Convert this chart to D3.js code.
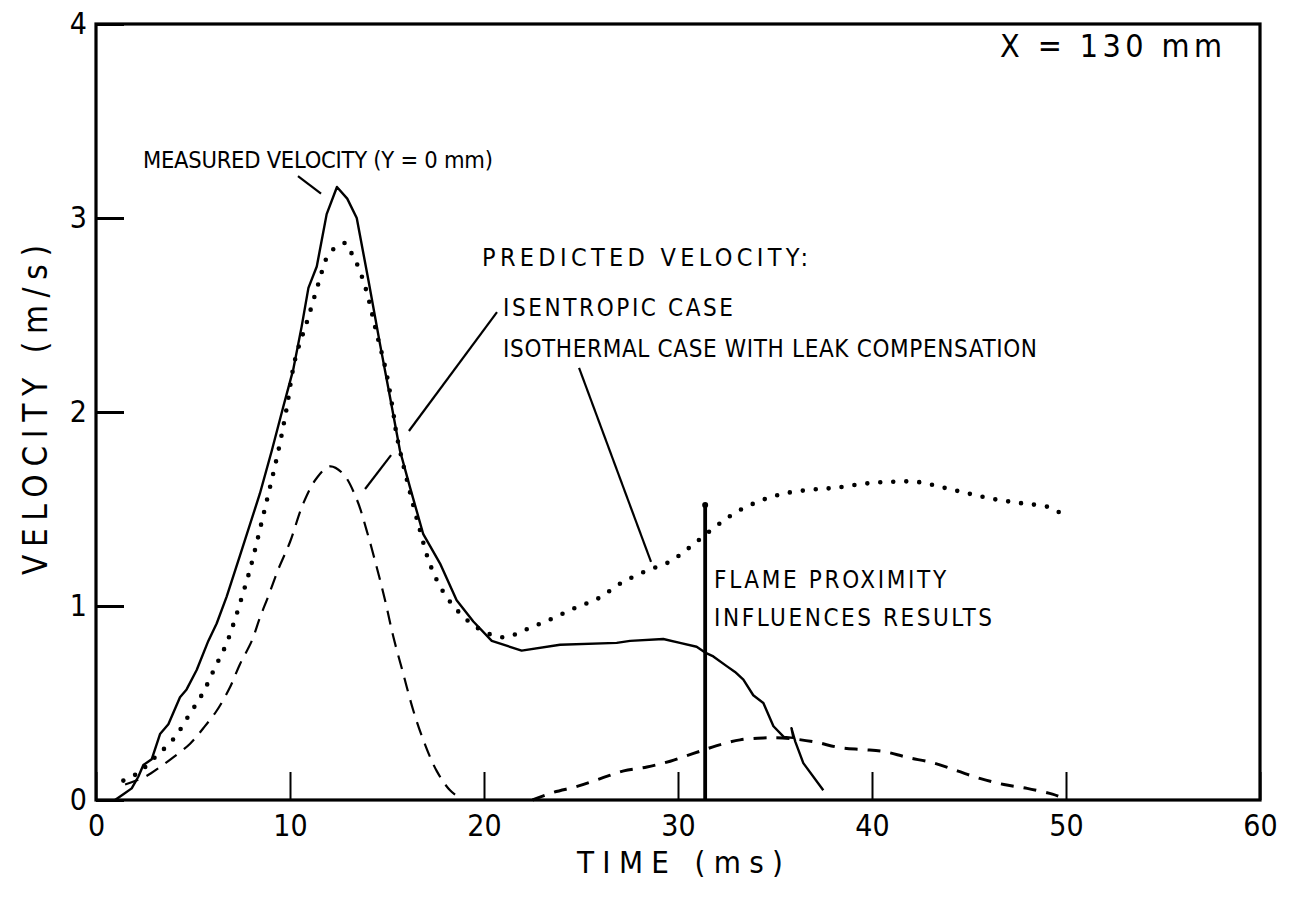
<!DOCTYPE html>
<html>
<head>
<meta charset="utf-8">
<script src="https://cdn.jsdelivr.net/npm/d3@7"></script>
<style>
  html, body { margin: 0; padding: 0; background: #fff; }
  svg { display: block; }
</style>
</head>
<body>
<svg id="chart" width="1294" height="899"></svg>
<script>
// ---- data: time (ms), velocity (m/s) ----
const xTicks = [0, 10, 20, 30, 40, 50, 60];
const yTicks = [0, 1, 2, 3, 4];

// measured velocity at Y = 0 mm (solid)
const measured = [
  [0.98, 0.00], [1.41, 0.03], [1.84, 0.06], [2.18, 0.12], [2.44, 0.18], [2.87, 0.21],
  [3.30, 0.34], [3.73, 0.39], [4.33, 0.53], [4.67, 0.57], [5.19, 0.67], [5.79, 0.82],
  [6.22, 0.91], [6.74, 1.05], [7.42, 1.26], [8.45, 1.58], [9.06, 1.80], [9.66, 2.03],
  [10.17, 2.22], [10.60, 2.44], [10.95, 2.64], [11.38, 2.75], [11.55, 2.84], [11.89, 3.02],
  [12.42, 3.16], [12.95, 3.10], [13.44, 3.00], [14.04, 2.68], [14.64, 2.35], [15.15, 2.08],
  [15.67, 1.80], [16.19, 1.61], [16.87, 1.37], [17.73, 1.22], [18.59, 1.03], [19.45, 0.92],
  [20.40, 0.82], [21.94, 0.77], [23.92, 0.80], [26.84, 0.81], [27.53, 0.82], [29.24, 0.83],
  [30.10, 0.81], [30.96, 0.79], [31.40, 0.76], [31.82, 0.74], [32.51, 0.69], [32.94, 0.66],
  [33.37, 0.62], [33.88, 0.54], [34.40, 0.50], [34.92, 0.38], [35.45, 0.325], [35.95, 0.32],
  [35.85, 0.37], [36.05, 0.30], [36.20, 0.26], [36.46, 0.19], [37.49, 0.05]
];

// predicted, isothermal case with leak compensation (dotted)
const isothermal = [
  [1.41, 0.10], [2.18, 0.14], [3.04, 0.22], [4.04, 0.32], [4.81, 0.44], [5.50, 0.55],
  [6.12, 0.68], [6.70, 0.80], [7.16, 0.93], [7.59, 1.07], [7.97, 1.20], [8.70, 1.50],
  [9.40, 1.80], [9.83, 2.02], [10.26, 2.27], [10.89, 2.47], [11.49, 2.67], [11.92, 2.80],
  [12.37, 2.85], [12.89, 2.87], [13.21, 2.81], [13.51, 2.75], [13.95, 2.62], [14.43, 2.42],
  [14.93, 2.22], [15.29, 2.02], [15.50, 1.88], [16.10, 1.62], [16.70, 1.39], [17.20, 1.22],
  [17.80, 1.09], [18.60, 0.98], [19.62, 0.89], [20.80, 0.84], [21.50, 0.85], [22.20, 0.88],
  [23.40, 0.93], [24.70, 0.99], [25.90, 1.04], [27.10, 1.12], [28.35, 1.18], [29.60, 1.23],
  [30.70, 1.31], [31.82, 1.40], [32.94, 1.48], [34.18, 1.54], [35.48, 1.58], [36.90, 1.60],
  [38.17, 1.61], [39.55, 1.63], [40.90, 1.64], [42.30, 1.64], [43.70, 1.61], [44.96, 1.58],
  [46.34, 1.55], [47.70, 1.53], [49.10, 1.51], [49.70, 1.48]
];

// predicted, isentropic case (dashed), first and second rise
const isentropicEarly = [
  [1.50, 0.08], [2.53, 0.12], [3.30, 0.17], [3.98, 0.22], [4.85, 0.29], [5.53, 0.37],
  [6.22, 0.46], [6.90, 0.58], [7.42, 0.70], [8.03, 0.82], [8.45, 0.94], [8.88, 1.05],
  [9.40, 1.19], [10.00, 1.33], [10.69, 1.53], [11.38, 1.66], [12.06, 1.72], [12.75, 1.68],
  [13.44, 1.55], [13.95, 1.39], [14.47, 1.20], [14.90, 1.03], [15.33, 0.84], [15.84, 0.65],
  [16.36, 0.46], [16.87, 0.31], [17.56, 0.15], [18.25, 0.05], [18.90, 0.00]
];
const isentropicLate = [
  [22.50, 0.00], [23.60, 0.04], [24.80, 0.07], [26.00, 0.11], [27.20, 0.15], [28.40, 0.17],
  [29.60, 0.20], [30.80, 0.24], [32.00, 0.28], [33.20, 0.31], [34.40, 0.32], [35.40, 0.32],
  [37.00, 0.30], [38.35, 0.27], [39.55, 0.26], [40.60, 0.25], [41.80, 0.22], [43.20, 0.19],
  [44.40, 0.15], [45.60, 0.11], [46.80, 0.08], [48.00, 0.06], [49.30, 0.03], [49.60, 0.02]
];

// flame proximity marker (time, top of bar)
const flameMarker = [[31.4, 0.0], [31.4, 1.52]];

// annotation text and anchor points (time, velocity)
const notes = [
  { text: "X = 130 mm", t: 46.6, v: 3.83, size: 32, len: 222 },
  { text: "MEASURED VELOCITY (Y = 0 mm)", t: 2.42, v: 3.26, size: 23.5, len: 350 },
  { text: "PREDICTED VELOCITY:", t: 19.9, v: 2.753, size: 25, len: 326 },
  { text: "ISENTROPIC CASE", t: 20.98, v: 2.495, size: 24, len: 230 },
  { text: "ISOTHERMAL CASE WITH LEAK COMPENSATION", t: 20.98, v: 2.284, size: 24, len: 534 },
  { text: "FLAME PROXIMITY", t: 31.86, v: 1.093, size: 24, len: 232 },
  { text: "INFLUENCES RESULTS", t: 31.86, v: 0.897, size: 24, len: 278 }
];

// leader lines from labels to curves (time, velocity pairs)
const leaders = [
  [[10.41, 3.216], [11.60, 3.126]],
  [[13.87, 1.603], [15.21, 1.778]],
  [[16.13, 1.902], [20.67, 2.515]],
  [[24.90, 2.227], [28.61, 1.227]]
];

// ---- drawing ----
const FONT = "'Liberation Sans Narrow','DejaVu Sans Condensed','Liberation Sans',sans-serif";
const svg = d3.select("#chart");
const plot = { left: 96, right: 1260, top: 24, bottom: 800 };

const x = d3.scaleLinear().domain([0, 60]).range([plot.left, plot.right]);
const y = d3.scaleLinear().domain([0, 4]).range([plot.bottom, plot.top]);

svg.append("rect").attr("width", 1294).attr("height", 899).attr("fill", "#fff");

// x axis with inward ticks
const gx = svg.append("g")
  .attr("transform", `translate(0,${plot.bottom})`)
  .call(d3.axisBottom(x).tickValues(xTicks).tickSizeInner(-28).tickSizeOuter(0).tickPadding(15));
gx.select(".domain").remove();
gx.selectAll(".tick line").attr("stroke", "#000").attr("stroke-width", 2);
gx.selectAll(".tick text").attr("font-family", FONT).attr("font-size", 30).attr("fill", "#000");

// y axis with inward ticks
const gy = svg.append("g")
  .attr("transform", `translate(${plot.left},0)`)
  .call(d3.axisLeft(y).tickValues(yTicks).tickFormat(d3.format("d")).tickSizeInner(-28).tickSizeOuter(0).tickPadding(9));
gy.select(".domain").remove();
gy.selectAll(".tick line").attr("stroke", "#000").attr("stroke-width", 3);
gy.selectAll(".tick text").attr("font-family", FONT).attr("font-size", 30).attr("fill", "#000");

// frame
svg.append("rect")
  .attr("x", x(0)).attr("y", y(4))
  .attr("width", x(60) - x(0)).attr("height", y(0) - y(4))
  .attr("fill", "none").attr("stroke", "#000").attr("stroke-width", 3.2);

// axis titles
svg.append("text")
  .attr("x", (x(0) + x(60)) / 2 + 2).attr("y", 873)
  .attr("text-anchor", "middle")
  .attr("font-family", FONT).attr("font-size", 31)
  .attr("textLength", 206).attr("lengthAdjust", "spacing")
  .text("TIME (ms)");

svg.append("text")
  .attr("transform", `translate(47,410) rotate(-90)`)
  .attr("text-anchor", "middle")
  .attr("font-family", FONT).attr("font-size", 33)
  .attr("textLength", 330).attr("lengthAdjust", "spacing")
  .text("VELOCITY (m/s)");

const line = d3.line().x(d => x(d[0])).y(d => y(d[1]));
const smooth = d3.line().x(d => x(d[0])).y(d => y(d[1])).curve(d3.curveCatmullRom.alpha(0.5));

// isentropic prediction (dashed)
svg.append("path").datum(isentropicEarly)
  .attr("d", smooth).attr("fill", "none").attr("stroke", "#000")
  .attr("stroke-width", 2.2).attr("stroke-dasharray", "14,9");
svg.append("path").datum(isentropicLate)
  .attr("d", smooth).attr("fill", "none").attr("stroke", "#000")
  .attr("stroke-width", 3).attr("stroke-dasharray", "13,10");

// isothermal prediction (dotted)
svg.append("path").datum(isothermal)
  .attr("d", smooth).attr("fill", "none").attr("stroke", "#000")
  .attr("stroke-width", 4.6).attr("stroke-linecap", "round")
  .attr("stroke-dasharray", "0,13");

// measured (solid)
svg.append("path").datum(measured)
  .attr("d", line).attr("fill", "none").attr("stroke", "#000")
  .attr("stroke-width", 2.4).attr("stroke-linejoin", "round");

// flame proximity bar
svg.append("path").datum(flameMarker)
  .attr("d", line).attr("fill", "none").attr("stroke", "#000")
  .attr("stroke-width", 3.8);
svg.append("circle")
  .attr("cx", x(flameMarker[1][0])).attr("cy", y(flameMarker[1][1]))
  .attr("r", 3).attr("fill", "#000");

// leader lines
svg.selectAll(".leader").data(leaders).join("path")
  .attr("class", "leader")
  .attr("d", line).attr("fill", "none").attr("stroke", "#000").attr("stroke-width", 2.2);

// annotation text
svg.selectAll(".note").data(notes).join("text")
  .attr("class", "note")
  .attr("x", d => x(d.t)).attr("y", d => y(d.v))
  .attr("font-family", FONT).attr("font-size", d => d.size)
  .attr("textLength", d => d.len).attr("lengthAdjust", "spacing")
  .attr("fill", "#000")
  .text(d => d.text);
</script>
</body>
</html>
